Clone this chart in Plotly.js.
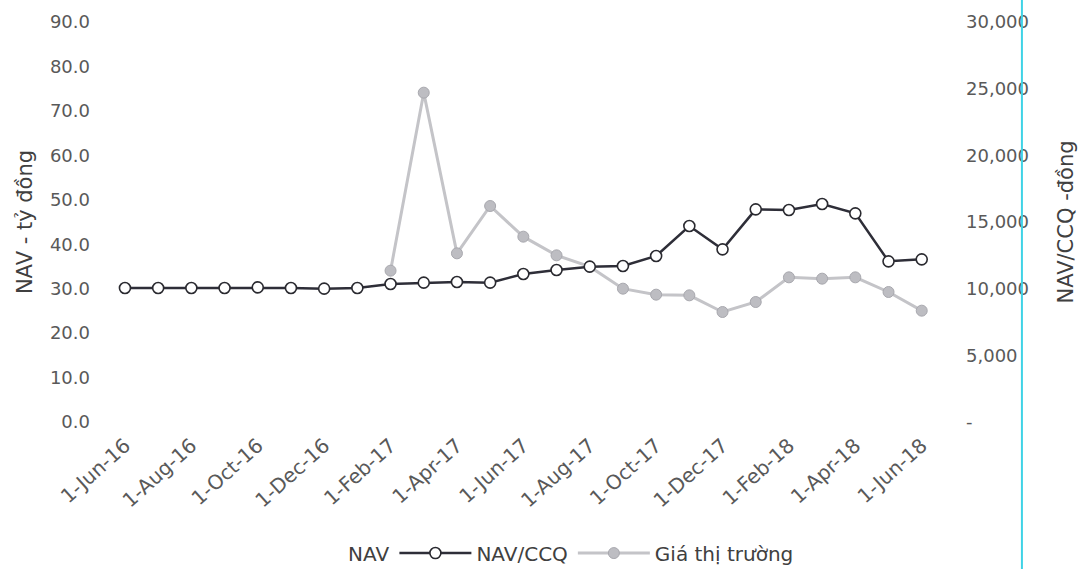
<!DOCTYPE html>
<html>
<head>
<meta charset="utf-8">
<script src="https://cdn.plot.ly/plotly-3.0.1.min.js"></script>
<style>html,body{margin:0;padding:0;background:#fff;}#chart{width:1078px;height:569px;}</style>
</head>
<body>
<div id="chart"></div>
<script>
const months = ["1-Jun-16","1-Jul-16","1-Aug-16","1-Sep-16","1-Oct-16","1-Nov-16","1-Dec-16","1-Jan-17","1-Feb-17","1-Mar-17","1-Apr-17","1-May-17","1-Jun-17","1-Jul-17","1-Aug-17","1-Sep-17","1-Oct-17","1-Nov-17","1-Dec-17","1-Jan-18","1-Feb-18","1-Mar-18","1-Apr-18","1-May-18","1-Jun-18"];
const tickMonths = ["1-Jun-16","1-Aug-16","1-Oct-16","1-Dec-16","1-Feb-17","1-Apr-17","1-Jun-17","1-Aug-17","1-Oct-17","1-Dec-17","1-Feb-18","1-Apr-18","1-Jun-18"];
const navValues = [null];
const navCcq = [10050,10050,10050,10050,10100,10050,10000,10050,10350,10450,10500,10450,11100,11400,11650,11700,12450,14700,12950,15950,15900,16350,15650,12050,12200];
const marketPrice = [null,null,null,null,null,null,null,null,11350,24700,12650,16200,13900,12500,11650,10000,9550,9500,8250,9000,10850,10750,10850,9750,8350];
const leftTicks = [0,10,20,30,40,50,60,70,80,90];
const rightTicks = [0,5000,10000,15000,20000,25000,30000];
const rightTickText = ["-","5,000","10,000","15,000","20,000","25,000","30,000"];

const font = "DejaVu Sans, sans-serif";
const navTrace = {name:"NAV", x: navValues.map((v,i)=>months[i]), y: navValues, type:"scatter", mode:"lines",
   line:{width:0,color:"rgba(0,0,0,0)"}, showlegend:true, legendrank:1};
const ccqTrace = {name:"NAV/CCQ", x: months, y: navCcq, yaxis:"y2", type:"scatter", mode:"lines+markers",
   line:{color:"#2e2e38", width:2.5}, legendrank:2,
   marker:{symbol:"circle", size:11, color:"#ffffff", line:{color:"#2a2a30", width:1.6}}};
const priceTrace = {name:"Giá thị trường", x: months, y: marketPrice, yaxis:"y2", type:"scatter", mode:"lines+markers",
   line:{color:"#c4c4c8", width:3}, legendrank:3,
   marker:{symbol:"circle", size:11, color:"#bdbdc2", line:{color:"#a8a8ae", width:1}}};
const data = [navTrace, priceTrace, ccqTrace];

const layout = {
  width:1078, height:569,
  margin:{l:115, r:143, t:22, b:147, autoexpand:false},
  paper_bgcolor:"#ffffff", plot_bgcolor:"#ffffff",
  font:{family:font, color:"#595959", size:18},
  showlegend:true,
  legend:{orientation:"h", xref:"container", yref:"container", x:0.494, xanchor:"center", y:0.028, yanchor:"middle",
    font:{family:font, size:20, color:"#404040"}, itemwidth:72},
  xaxis:{type:"category", categoryorder:"array", categoryarray:months,
    range:[-0.3, 24.4], tickmode:"array", tickvals:tickMonths, ticktext:tickMonths,
    tickangle:-42, showgrid:false, zeroline:false, showline:false, ticks:"",
    tickfont:{family:font, size:20, color:"#595959"}, ticklabelstandoff:7},
  yaxis:{range:[0,90], tickmode:"array", tickvals:leftTicks,
    ticktext:leftTicks.map(v=>v.toFixed(1)), showgrid:false, zeroline:false, showline:false, ticks:"",
    tickfont:{family:font, size:18, color:"#595959"}, ticklabelstandoff:24,
    title:{text:"NAV - tỷ đồng", font:{family:font, size:21, color:"#404040"}, standoff:11}},
  yaxis2:{range:[0,30000], overlaying:"y", side:"right", tickmode:"array", tickvals:rightTicks,
    ticktext:rightTickText, showgrid:false, zeroline:false, showline:false, ticks:"",
    tickfont:{family:font, size:18, color:"#595959"}, ticklabelstandoff:30,
    title:{text:"NAV/CCQ -đồng", font:{family:font, size:21, color:"#404040"}, standoff:30}},
  shapes:[{type:"line", xref:"paper", yref:"paper", x0:1.106, x1:1.106, y0:-0.37, y1:1.06,
    line:{color:"#3fd3e6", width:2}}]
};
Plotly.newPlot("chart", data, layout, {displayModeBar:false, staticPlot:true});
</script>
</body>
</html>
